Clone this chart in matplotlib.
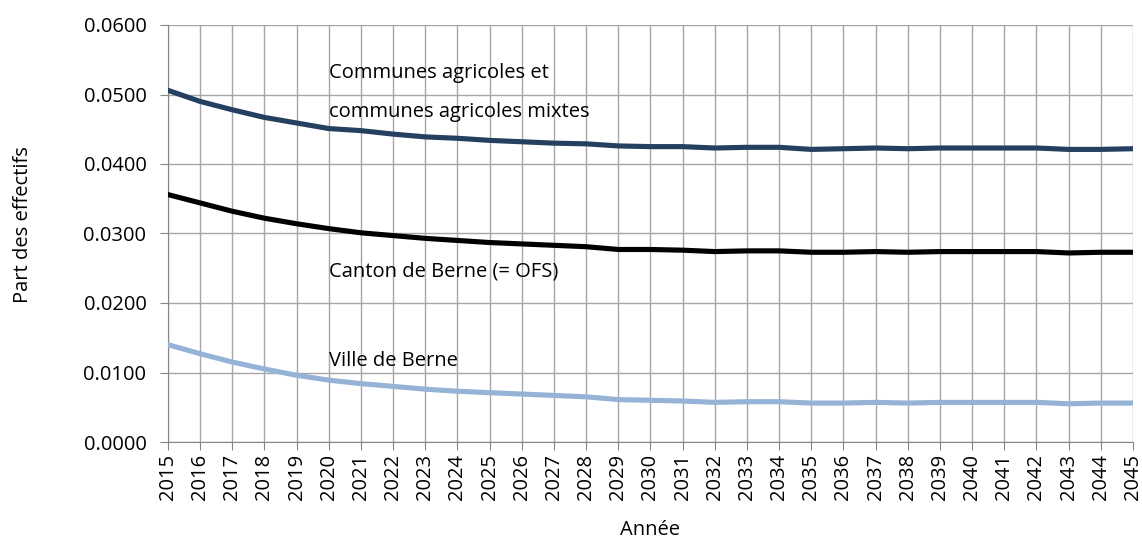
import matplotlib
matplotlib.use("Agg")
import matplotlib.pyplot as plt
from matplotlib.ticker import MultipleLocator, FormatStrFormatter

plt.rcParams['font.family'] = ['Open Sans', 'DejaVu Sans']

years = list(range(2015, 2046))
agricoles = [0.0506, 0.0490, 0.0478, 0.0467, 0.0459, 0.0451, 0.0448, 0.0443, 0.0439, 0.0437,
             0.0434, 0.0432, 0.0430, 0.0429, 0.0426, 0.0425, 0.0425, 0.0423, 0.0424, 0.0424,
             0.0421, 0.0422, 0.0423, 0.0422, 0.0423, 0.0423, 0.0423, 0.0423, 0.0421, 0.0421, 0.0422]
canton = [0.0356, 0.0344, 0.0332, 0.0322, 0.0314, 0.0307, 0.0301, 0.0297, 0.0293, 0.0290,
          0.0287, 0.0285, 0.0283, 0.0281, 0.0277, 0.0277, 0.0276, 0.0274, 0.0275, 0.0275,
          0.0273, 0.0273, 0.0274, 0.0273, 0.0274, 0.0274, 0.0274, 0.0274, 0.0272, 0.0273, 0.0273]
ville = [0.0140, 0.0127, 0.0115, 0.0105, 0.0096, 0.0089, 0.0084, 0.0080, 0.0076, 0.0073,
         0.0071, 0.0069, 0.0067, 0.0065, 0.0061, 0.0060, 0.0059, 0.0057, 0.0058, 0.0058,
         0.0056, 0.0056, 0.0057, 0.0056, 0.0057, 0.0057, 0.0057, 0.0057, 0.0055, 0.0056, 0.0056]

label_agr_1 = "Communes agricoles et"
label_agr_2 = "communes agricoles mixtes"
label_canton = "Canton de Berne (= OFS)"
label_ville = "Ville de Berne"

FS = 14.5
W, H = 1142, 538
fig = plt.figure(figsize=(W / 100, H / 100), dpi=100)
ax = fig.add_axes([168 / W, 1 - 442 / H, (1133 - 168) / W, (442 - 25) / H])

ax.plot(years, agricoles, color='#243F60', lw=3.7, zorder=3)
ax.plot(years, canton, color='#000000', lw=3.7, zorder=3)
ax.plot(years, ville, color='#95B3D7', lw=3.7, zorder=3)

ax.set_xlim(2015, 2045)
ax.set_ylim(0, 0.06)
ax.set_xticks(years)
ax.set_xticklabels([str(y) for y in years], rotation=90, fontsize=FS)
ax.yaxis.set_major_locator(MultipleLocator(0.01))
ax.yaxis.set_major_formatter(FormatStrFormatter('%.4f'))
ax.tick_params(axis='y', labelsize=FS, length=5.5, color='#868686', pad=10)
ax.tick_params(axis='x', length=5.5, color='#868686', pad=3)
ax.grid(True, color='#A6A6A6', lw=1.0, zorder=0)
ax.set_axisbelow(True)
for s in ['top', 'right']:
    ax.spines[s].set_visible(False)
for s in ['left', 'bottom']:
    ax.spines[s].set_color('#868686')

tx = 2020.0
ax.text(tx, 0.05237, label_agr_1, fontsize=FS, ha='left', va='baseline')
ax.text(tx, 0.04681, label_agr_2, fontsize=FS, ha='left', va='baseline')
ax.text(tx, 0.02382, label_canton, fontsize=FS, ha='left', va='baseline')
ax.text(tx, 0.01089, label_ville, fontsize=FS, ha='left', va='baseline')

fig.text(650 / W, 1 - 530 / H, "Année", fontsize=FS, ha='center', va='center')
fig.text(23 / W, 1 - 225 / H, "Part des effectifs", fontsize=FS, ha='center', va='center', rotation=90)

fig.savefig("out.png", dpi=100)
